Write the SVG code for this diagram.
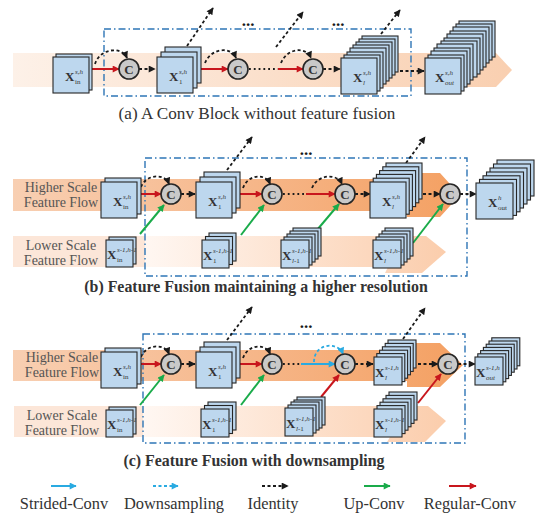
<svg xmlns="http://www.w3.org/2000/svg" width="538" height="523" viewBox="0 0 538 523">
<defs>
<linearGradient id="gA" gradientUnits="userSpaceOnUse" x1="13" y1="0" x2="512" y2="0"><stop offset="0" stop-color="#fdf1e8"/><stop offset="1" stop-color="#f9cfb0"/></linearGradient>
<linearGradient id="gH" gradientUnits="userSpaceOnUse" x1="13" y1="0" x2="462" y2="0"><stop offset="0" stop-color="#f8cfb2"/><stop offset="0.5" stop-color="#f6b88c"/><stop offset="1" stop-color="#f4a062"/></linearGradient>
<linearGradient id="gL" gradientUnits="userSpaceOnUse" x1="145" y1="0" x2="446" y2="0"><stop offset="0" stop-color="#fff7f2"/><stop offset="1" stop-color="#fbcdac"/></linearGradient>
<marker id="mK" viewBox="0 0 10 10" refX="9" refY="5" markerWidth="8" markerHeight="7" markerUnits="userSpaceOnUse" orient="auto"><path d="M0,0 L10,5 L0,10 Z" fill="#1a1a1a"/></marker>
<marker id="mR" viewBox="0 0 10 10" refX="9" refY="5" markerWidth="9" markerHeight="7" markerUnits="userSpaceOnUse" orient="auto"><path d="M0,0 L10,5 L0,10 Z" fill="#c8161d"/></marker>
<marker id="mG" viewBox="0 0 10 10" refX="9" refY="5" markerWidth="9" markerHeight="7" markerUnits="userSpaceOnUse" orient="auto"><path d="M0,0 L10,5 L0,10 Z" fill="#1aab4a"/></marker>
<marker id="mB" viewBox="0 0 10 10" refX="9" refY="5" markerWidth="9" markerHeight="7" markerUnits="userSpaceOnUse" orient="auto"><path d="M0,0 L10,5 L0,10 Z" fill="#29aae1"/></marker>
</defs>
<style>
.L{fill:#bdd7ee;stroke:#262626;stroke-width:1.1}
.box{fill:none;stroke:#2e75b6;stroke-width:1.4;stroke-dasharray:7 3 1.5 3}
.cc{fill:#c9c9c9;stroke:#262626;stroke-width:1.6}
.ct{font-family:"Liberation Serif",serif;font-weight:bold;font-size:13px;fill:#333;text-anchor:middle}
.X{font-family:"Liberation Serif",serif;font-weight:bold;font-size:13px;fill:#333}
.s{font-family:"Liberation Serif",serif;font-size:7px;fill:#333}
.si{font-family:"Liberation Serif",serif;font-style:italic;font-size:7px;fill:#333}
.id{fill:none;stroke:#1a1a1a;stroke-width:1.8;stroke-dasharray:3 2.5}
.dt{fill:none;stroke:#1a1a1a;stroke-width:1.8;stroke-dasharray:1.8 3}
.rc{fill:none;stroke:#c8161d;stroke-width:2}
.gc{fill:none;stroke:#1aab4a;stroke-width:2}
.bc{fill:none;stroke:#29aae1;stroke-width:2}
.bd{fill:none;stroke:#29aae1;stroke-width:1.8;stroke-dasharray:3 2.5}
.side{font-family:"Liberation Serif",serif;font-size:14px;fill:#555;text-anchor:middle}
.cap{font-family:"Liberation Serif",serif;font-size:17.2px;fill:#333;text-anchor:middle}
.capb{font-family:"Liberation Serif",serif;font-size:15.9px;font-weight:bold;fill:#333;text-anchor:middle}
.leg{font-family:"Liberation Serif",serif;font-size:16.4px;fill:#333;text-anchor:middle}
.dots{font-family:"Liberation Serif",serif;font-weight:bold;font-size:17px;fill:#1a1a1a;text-anchor:middle}
</style>

<!-- bands -->
<g id="bands">
<polygon points="13,53 496,53 512,70 496,87 13,87" fill="url(#gA)"/>
<polygon points="13,179 407,179 407,173 440,173 460,195 440,217 407,217 407,211 13,211" fill="url(#gH)"/>
<rect x="13" y="236" width="132" height="31" fill="#fce6d8"/>
<polygon points="145,236 426,236 446,252 422,273 385,273 388,267 145,267" fill="url(#gL)"/>
<polygon points="13,350 407,350 407,343 440,343 463,365 440,387 407,387 407,381 13,381" fill="url(#gH)"/>
<rect x="14" y="406" width="129" height="31" fill="#fce6d8"/>
<polygon points="143,406 428,406 446,421 425,442 387,442 390,437 143,437" fill="url(#gL)"/>
</g>

<g id="boxes">
<rect class="box" x="104" y="29" width="307" height="67"/>
<rect class="box" x="145" y="158" width="322" height="118"/>
<rect class="box" x="143" y="334" width="322" height="109"/>
</g>

<g id="side-labels">
<text class="side" x="61" y="192">Higher Scale</text>
<text class="side" x="61" y="207">Feature Flow</text>
<text class="side" x="61" y="250">Lower Scale</text>
<text class="side" x="61" y="265">Feature Flow</text>
<text class="side" x="62" y="362">Higher Scale</text>
<text class="side" x="62" y="377">Feature Flow</text>
<text class="side" x="62" y="420">Lower Scale</text>
<text class="side" x="62" y="435">Feature Flow</text>
</g>

<!-- connectors -->
<g id="connectors">
<!-- panel a -->
<line class="rc" x1="91" y1="69" x2="119" y2="69" marker-end="url(#mR)"/>
<path class="id" d="M95,64 C100,48 122,46 127,58" marker-end="url(#mK)"/>
<line class="id" x1="139" y1="69" x2="155" y2="69" marker-end="url(#mK)"/>
<line class="id" x1="187" y1="46" x2="213" y2="8" marker-end="url(#mK)"/>
<line class="rc" x1="199" y1="69" x2="228" y2="69" marker-end="url(#mR)"/>
<path class="id" d="M205,63 C211,48 231,46 236,58" marker-end="url(#mK)"/>
<line class="dt" x1="249" y1="69" x2="278" y2="69"/>
<line class="rc" x1="278" y1="69" x2="303" y2="69" marker-end="url(#mR)"/>
<path class="id" d="M281,63 C287,48 306,46 311,58" marker-end="url(#mK)"/>
<line class="id" x1="276" y1="47" x2="303" y2="12" marker-end="url(#mK)"/>
<line class="id" x1="323" y1="69" x2="340" y2="69" marker-end="url(#mK)"/>
<line class="id" x1="381" y1="34" x2="400" y2="10" marker-end="url(#mK)"/>
<line class="id" x1="400" y1="71" x2="424" y2="71" marker-end="url(#mK)"/>
<!-- panel b -->
<line class="rc" x1="139" y1="194" x2="161" y2="194" marker-end="url(#mR)"/>
<path class="id" d="M141,187 C146,174 165,173 169,184" marker-end="url(#mK)"/>
<line class="gc" x1="140" y1="234" x2="164" y2="205" marker-end="url(#mG)"/>
<line class="id" x1="181" y1="194" x2="195" y2="194" marker-end="url(#mK)"/>
<line class="id" x1="227" y1="170" x2="252" y2="137" marker-end="url(#mK)"/>
<line class="rc" x1="237" y1="194" x2="262" y2="194" marker-end="url(#mR)"/>
<path class="id" d="M243,188 C248,174 266,173 270,184" marker-end="url(#mK)"/>
<line class="gc" x1="241" y1="235" x2="264" y2="205" marker-end="url(#mG)"/>
<line class="dt" x1="283" y1="194" x2="306" y2="194"/>
<line class="rc" x1="306" y1="194" x2="335" y2="194" marker-end="url(#mR)"/>
<path class="id" d="M312,188 C318,174 337,173 342,184" marker-end="url(#mK)"/>
<line class="gc" x1="317" y1="230" x2="339" y2="204" marker-end="url(#mG)"/>
<line class="id" x1="355" y1="194" x2="370" y2="194" marker-end="url(#mK)"/>
<line class="id" x1="406" y1="163" x2="425" y2="137" marker-end="url(#mK)"/>
<line class="id" x1="423" y1="194" x2="440" y2="194" marker-end="url(#mK)"/>
<line class="gc" x1="413" y1="243" x2="443" y2="204" marker-end="url(#mG)"/>
<line class="id" x1="460" y1="194" x2="476" y2="194" marker-end="url(#mK)"/>
<!-- panel c -->
<line class="rc" x1="139" y1="364" x2="161" y2="364" marker-end="url(#mR)"/>
<path class="id" d="M141,357 C146,344 165,343 169,354" marker-end="url(#mK)"/>
<line class="gc" x1="140" y1="405" x2="164" y2="375" marker-end="url(#mG)"/>
<line class="id" x1="181" y1="364" x2="195" y2="364" marker-end="url(#mK)"/>
<line class="id" x1="227" y1="340" x2="252" y2="307" marker-end="url(#mK)"/>
<line class="rc" x1="237" y1="364" x2="262" y2="364" marker-end="url(#mR)"/>
<path class="id" d="M243,358 C248,344 266,343 270,354" marker-end="url(#mK)"/>
<line class="gc" x1="241" y1="405" x2="264" y2="375" marker-end="url(#mG)"/>
<line class="dt" x1="283" y1="364" x2="301" y2="364"/>
<line class="bc" x1="301" y1="364" x2="335" y2="364" marker-end="url(#mB)"/>
<path class="bd" d="M314,362 C314,343 338,341 343,354" marker-end="url(#mB)"/>
<line class="rc" x1="321" y1="397" x2="339" y2="375" marker-end="url(#mR)"/>
<line class="id" x1="355" y1="364" x2="373" y2="364" marker-end="url(#mK)"/>
<line class="id" x1="403" y1="339" x2="425" y2="308" marker-end="url(#mK)"/>
<line class="id" x1="418" y1="364" x2="438" y2="364" marker-end="url(#mK)"/>
<line class="rc" x1="418" y1="403" x2="441" y2="374" marker-end="url(#mR)"/>
<line class="id" x1="458" y1="364" x2="475" y2="364" marker-end="url(#mK)"/>
</g>

<g id="ellipses">
<text class="dots" x="248" y="26">...</text>
<text class="dots" x="338" y="26">...</text>
<text class="dots" x="306" y="155">...</text>
<text class="dots" x="306" y="328">...</text>
</g>

<!-- concat circles -->
<g id="concat-a">
<circle class="cc" cx="129" cy="69" r="10"/><text class="ct" x="129" y="73.5">C</text>
<circle class="cc" cx="238" cy="69" r="10"/><text class="ct" x="238" y="73.5">C</text>
<circle class="cc" cx="313" cy="69" r="10"/><text class="ct" x="313" y="73.5">C</text>
</g>
<g id="concat-b">
<circle class="cc" cx="171" cy="194" r="10"/><text class="ct" x="171" y="198.5">C</text>
<circle class="cc" cx="272" cy="194" r="10"/><text class="ct" x="272" y="198.5">C</text>
<circle class="cc" cx="345" cy="194" r="10"/><text class="ct" x="345" y="198.5">C</text>
<circle class="cc" cx="450" cy="194" r="10"/><text class="ct" x="450" y="198.5">C</text>
</g>
<g id="concat-c">
<circle class="cc" cx="171" cy="364" r="10"/><text class="ct" x="171" y="368.5">C</text>
<circle class="cc" cx="272" cy="364" r="10"/><text class="ct" x="272" y="368.5">C</text>
<circle class="cc" cx="345" cy="364" r="10"/><text class="ct" x="345" y="368.5">C</text>
<circle class="cc" cx="448" cy="364" r="10"/><text class="ct" x="448" y="368.5">C</text>
</g>

<!-- panel a cubes -->
<g id="a-xin">
<rect class="L" x="56" y="54" width="36" height="36"/><rect class="L" x="53" y="57" width="36" height="36"/>
<text class="X" x="65" y="81">X</text><text class="si" x="75" y="74">s,h</text><text class="s" x="75" y="84">in</text>
</g>
<g id="a-x1">
<rect class="L" x="165" y="47" width="36" height="36"/><rect class="L" x="161" y="52" width="36" height="36"/><rect class="L" x="157" y="57" width="36" height="36"/>
<text class="X" x="169" y="81">X</text><text class="si" x="179" y="74">s,h</text><text class="s" x="179" y="84">1</text>
</g>
<g id="a-xl">
<rect class="L" x="362" y="36" width="36" height="36"/><rect class="L" x="359" y="39" width="36" height="36"/><rect class="L" x="356" y="42" width="36" height="36"/><rect class="L" x="353" y="45" width="36" height="36"/><rect class="L" x="350" y="48" width="36" height="36"/><rect class="L" x="347" y="52" width="36" height="36"/><rect class="L" x="344" y="55" width="36" height="36"/><rect class="L" x="341" y="58" width="36" height="36"/>
<text class="X" x="353" y="82">X</text><text class="si" x="363" y="75">s,h</text><text class="si" x="363" y="85">l</text>
</g>
<g id="a-xout">
<rect class="L" x="459" y="21" width="36" height="36"/><rect class="L" x="456" y="24" width="36" height="36"/><rect class="L" x="453" y="27" width="36" height="36"/><rect class="L" x="450" y="31" width="36" height="36"/><rect class="L" x="447" y="34" width="36" height="36"/><rect class="L" x="444" y="38" width="36" height="36"/><rect class="L" x="441" y="41" width="36" height="36"/><rect class="L" x="437" y="44" width="36" height="36"/><rect class="L" x="434" y="48" width="36" height="36"/><rect class="L" x="431" y="51" width="36" height="36"/><rect class="L" x="428" y="55" width="36" height="36"/><rect class="L" x="425" y="58" width="36" height="36"/>
<text class="X" x="435" y="82">X</text><text class="si" x="445" y="75">s,h</text><text class="si" x="445" y="85">out</text>
</g>

<!-- panel b cubes -->
<g id="b-xin">
<rect class="L" x="105" y="178" width="36" height="36"/><rect class="L" x="101" y="182" width="36" height="36"/>
<text class="X" x="113" y="206">X</text><text class="si" x="123" y="199">s,h</text><text class="s" x="123" y="209">in</text>
</g>
<g id="b-xin-lo">
<rect class="L" x="109" y="237" width="27" height="27"/><rect class="L" x="106" y="240" width="27" height="27"/>
<text class="X" x="107" y="259">X</text><text class="si" x="117" y="252" font-size="6">s-1,h-1</text><text class="s" x="117" y="262">in</text>
</g>
<g id="b-x1">
<rect class="L" x="204" y="172" width="36" height="36"/><rect class="L" x="200" y="177" width="36" height="36"/><rect class="L" x="196" y="182" width="36" height="36"/>
<text class="X" x="208" y="206">X</text><text class="si" x="218" y="199">s,h</text><text class="s" x="218" y="209">1</text>
</g>
<g id="b-x1-lo">
<rect class="L" x="209" y="233" width="27" height="28"/><rect class="L" x="205.5" y="236.5" width="27" height="28"/><rect class="L" x="202" y="240" width="27" height="28"/>
<text class="X" x="203" y="260">X</text><text class="si" x="213" y="253" font-size="6">s-1,h-1</text><text class="s" x="213" y="263">1</text>
</g>
<g id="b-xl1-lo">
<rect class="L" x="293" y="228" width="28" height="28"/><rect class="L" x="290" y="231" width="28" height="28"/><rect class="L" x="287" y="234" width="28" height="28"/><rect class="L" x="284" y="237" width="28" height="28"/><rect class="L" x="281" y="240" width="28" height="28"/>
<text class="X" x="282" y="260">X</text><text class="si" x="292" y="253" font-size="6">s-1,h-1</text><text class="si" x="292" y="263">l</text><text class="s" x="294" y="263">-1</text>
</g>
<g id="b-xl">
<rect class="L" x="386" y="163" width="36" height="36"/><rect class="L" x="382.8" y="166.8" width="36" height="36"/><rect class="L" x="379.6" y="170.6" width="36" height="36"/><rect class="L" x="376.4" y="174.4" width="36" height="36"/><rect class="L" x="373.2" y="178.2" width="36" height="36"/><rect class="L" x="370" y="182" width="36" height="36"/>
<text class="X" x="382" y="206">X</text><text class="si" x="392" y="199">s,h</text><text class="si" x="392" y="209">l</text>
</g>
<g id="b-xl-lo">
<rect class="L" x="385" y="228" width="28" height="28"/><rect class="L" x="382" y="231" width="28" height="28"/><rect class="L" x="379" y="234" width="28" height="28"/><rect class="L" x="376" y="237" width="28" height="28"/><rect class="L" x="373" y="240" width="28" height="28"/>
<text class="X" x="374" y="260">X</text><text class="si" x="384" y="253" font-size="6">s-1,h-1</text><text class="si" x="384" y="263">l</text>
</g>
<g id="b-xout">
<rect class="L" x="497" y="160" width="37" height="36"/><rect class="L" x="493.5" y="164" width="37" height="36"/><rect class="L" x="490" y="168" width="37" height="36"/><rect class="L" x="486.5" y="172" width="37" height="36"/><rect class="L" x="483" y="175.8" width="37" height="36"/><rect class="L" x="479.5" y="179.4" width="37" height="36"/><rect class="L" x="476" y="183" width="37" height="36"/>
<text class="X" x="488" y="207">X</text><text class="si" x="498" y="200">h</text><text class="s" x="498" y="210">out</text>
</g>

<!-- panel c cubes -->
<g id="c-xin">
<rect class="L" x="105" y="348" width="36" height="36"/><rect class="L" x="101" y="352" width="36" height="36"/>
<text class="X" x="113" y="376">X</text><text class="si" x="123" y="369">s,h</text><text class="s" x="123" y="379">in</text>
</g>
<g id="c-xin-lo">
<rect class="L" x="109" y="407" width="27" height="27"/><rect class="L" x="106" y="410" width="27" height="27"/>
<text class="X" x="107" y="429">X</text><text class="si" x="117" y="422" font-size="6">s-1,h-1</text><text class="s" x="117" y="432">in</text>
</g>
<g id="c-x1">
<rect class="L" x="204" y="342" width="36" height="36"/><rect class="L" x="200" y="347" width="36" height="36"/><rect class="L" x="196" y="352" width="36" height="36"/>
<text class="X" x="208" y="376">X</text><text class="si" x="218" y="369">s,h</text><text class="s" x="218" y="379">1</text>
</g>
<g id="c-x1-lo">
<rect class="L" x="208" y="402" width="28" height="28"/><rect class="L" x="204.5" y="405.5" width="28" height="28"/><rect class="L" x="201" y="409" width="28" height="28"/>
<text class="X" x="202" y="429">X</text><text class="si" x="212" y="422" font-size="6">s-1,h-1</text><text class="s" x="212" y="432">1</text>
</g>
<g id="c-xl1-lo">
<rect class="L" x="297" y="397" width="28" height="28"/><rect class="L" x="294" y="400" width="28" height="28"/><rect class="L" x="291" y="402" width="28" height="28"/><rect class="L" x="288" y="405" width="28" height="28"/><rect class="L" x="285" y="408" width="28" height="28"/>
<text class="X" x="286" y="428">X</text><text class="si" x="296" y="421" font-size="6">s-1,h-1</text><text class="si" x="296" y="431">l</text><text class="s" x="298" y="431">-1</text>
</g>
<g id="c-xl">
<rect class="L" x="388" y="340" width="28" height="28"/><rect class="L" x="385.2" y="343.4" width="28" height="28"/><rect class="L" x="382.4" y="346.8" width="28" height="28"/><rect class="L" x="379.6" y="350.2" width="28" height="28"/><rect class="L" x="376.8" y="353.6" width="28" height="28"/><rect class="L" x="374" y="357" width="28" height="28"/>
<text class="X" x="375" y="377">X</text><text class="si" x="385" y="370" font-size="6.5">s-1,h</text><text class="si" x="385" y="380">l</text>
</g>
<g id="c-xl-lo">
<rect class="L" x="389" y="392" width="28" height="28"/><rect class="L" x="386" y="395.4" width="28" height="28"/><rect class="L" x="383" y="398.8" width="28" height="28"/><rect class="L" x="380" y="402.2" width="28" height="28"/><rect class="L" x="377" y="405.6" width="28" height="28"/><rect class="L" x="374" y="409" width="28" height="28"/>
<text class="X" x="375" y="429">X</text><text class="si" x="385" y="422" font-size="6">s-1,h-1</text><text class="si" x="385" y="432">l</text>
</g>
<g id="c-xout">
<rect class="L" x="491.8" y="337.8" width="28" height="28"/><rect class="L" x="489" y="341" width="28" height="28"/><rect class="L" x="486.2" y="344.2" width="28" height="28"/><rect class="L" x="483.4" y="347.4" width="28" height="28"/><rect class="L" x="480.6" y="350.6" width="28" height="28"/><rect class="L" x="477.8" y="353.8" width="28" height="28"/><rect class="L" x="475" y="357" width="28" height="28"/>
<text class="X" x="476" y="377">X</text><text class="si" x="486" y="370" font-size="6.5">s-1,h</text><text class="si" x="486" y="380">out</text>
</g>

<g id="captions">
<text class="cap" x="257" y="119">(a) A Conv Block without feature fusion</text>
<text class="capb" x="256" y="292">(b) Feature Fusion maintaining a higher resolution</text>
<text class="capb" x="254" y="466">(c) Feature Fusion with downsampling</text>
</g>

<g id="legend">
<line class="bc" x1="51" y1="486" x2="76" y2="486" marker-end="url(#mB)"/>
<line class="bd" x1="153" y1="486" x2="178" y2="486" marker-end="url(#mB)"/>
<line class="id" x1="262" y1="486" x2="288" y2="486" marker-end="url(#mK)"/>
<line class="gc" x1="364" y1="486" x2="390" y2="486" marker-end="url(#mG)"/>
<line class="rc" x1="449" y1="486" x2="476" y2="486" marker-end="url(#mR)"/>
<text class="leg" x="64" y="509">Strided-Conv</text>
<text class="leg" x="174" y="509">Downsampling</text>
<text class="leg" x="273" y="509">Identity</text>
<text class="leg" x="374" y="509">Up-Conv</text>
<text class="leg" x="470" y="509">Regular-Conv</text>
</g>
</svg>
